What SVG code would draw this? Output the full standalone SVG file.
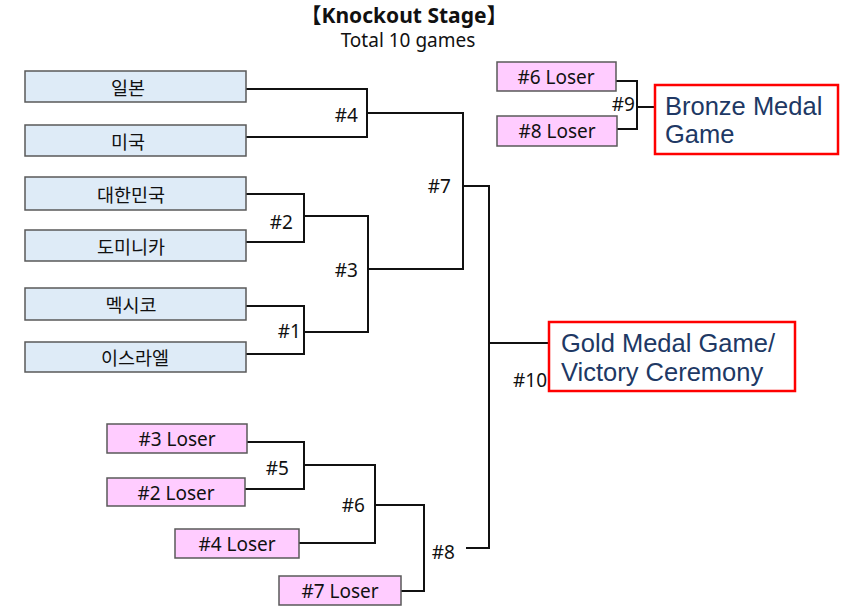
<svg xmlns="http://www.w3.org/2000/svg" width="850" height="613" viewBox="0 0 850 613">
<style>
text{font-family:"Noto Sans","Noto Sans CJK KR",sans-serif;fill:#111}
.team rect{fill:#deebf7;stroke:#595959;stroke-width:1.5}
.loser rect{fill:#ffccff;stroke:#595959;stroke-width:1.5}
.team text{font-size:18.5px;text-anchor:middle;dominant-baseline:central}
.loser text{font-size:19px;text-anchor:middle;dominant-baseline:central}
.lbl{font-size:19px;text-anchor:end}
.final rect{fill:#fff;stroke:#ff0000;stroke-width:2.5}
.final text{font-family:"Liberation Sans",Arial,sans-serif;font-size:25.5px;fill:#203864}
#connectors path{fill:none;stroke:#111;stroke-width:2}
</style>
<rect width="850" height="613" fill="#fff"/>
<text x="404" y="23" font-size="21" font-weight="bold" text-anchor="middle">【Knockout Stage】</text>
<text x="408" y="47" font-size="19" text-anchor="middle">Total 10 games</text>

<g id="connectors">
<path d="M246 89H367V137H246"/>
<path d="M367 113H463V269H368"/>
<path d="M246 194H304V242H246"/>
<path d="M304 216H368V332H304"/>
<path d="M246 306H304V354H246"/>
<path d="M463 186H489V548H466"/>
<path d="M489 343H549"/>
<path d="M247 442H304V489H245"/>
<path d="M304 465H375V543H299"/>
<path d="M375 505H424V591H401"/>
<path d="M616 81H637V129H617"/>
<path d="M637 107H655"/>
</g>

<g id="labels">
<text class="lbl" x="358" y="122">#4</text>
<text class="lbl" x="451" y="193">#7</text>
<text class="lbl" x="293" y="229">#2</text>
<text class="lbl" x="358" y="277">#3</text>
<text class="lbl" x="301" y="338">#1</text>
<text class="lbl" x="289" y="475">#5</text>
<text class="lbl" x="365" y="512">#6</text>
<text class="lbl" x="455" y="559">#8</text>
<text class="lbl" x="547" y="387">#10</text>
<text class="lbl" x="635" y="111">#9</text>
</g>

<g id="japan" class="team"><rect x="25" y="71" width="221" height="31"/><text x="128" y="87">일본</text></g>
<g id="usa" class="team"><rect x="25" y="125" width="221" height="31"/><text x="128" y="141">미국</text></g>
<g id="korea" class="team"><rect x="25" y="177" width="221" height="33"/><text x="131" y="194">대한민국</text></g>
<g id="dominica" class="team"><rect x="25" y="230" width="221" height="31"/><text x="131" y="246">도미니카</text></g>
<g id="mexico" class="team"><rect x="25" y="288" width="221" height="32"/><text x="131" y="304">멕시코</text></g>
<g id="israel" class="team"><rect x="25" y="342" width="221" height="30"/><text x="135" y="357">이스라엘</text></g>

<g id="loser3" class="loser"><rect x="107" y="424" width="140" height="29"/><text x="177" y="439">#3 Loser</text></g>
<g id="loser2" class="loser"><rect x="107" y="478" width="138" height="28"/><text x="176" y="493">#2 Loser</text></g>
<g id="loser4" class="loser"><rect x="175" y="529" width="124" height="29"/><text x="237" y="544">#4 Loser</text></g>
<g id="loser7" class="loser"><rect x="279" y="576" width="122" height="29"/><text x="340" y="591">#7 Loser</text></g>
<g id="loser6" class="loser"><rect x="497" y="62" width="119" height="29"/><text x="556" y="77">#6 Loser</text></g>
<g id="loser8" class="loser"><rect x="497" y="116" width="120" height="30"/><text x="557" y="131">#8 Loser</text></g>

<g id="bronze" class="final"><rect x="655" y="85" width="183" height="69"/><text x="665" y="115">Bronze Medal</text><text x="665" y="143">Game</text></g>
<g id="gold" class="final"><rect x="549" y="322" width="246" height="69"/><text x="561" y="352">Gold Medal Game/</text><text x="561" y="381">Victory Ceremony</text></g>
</svg>
